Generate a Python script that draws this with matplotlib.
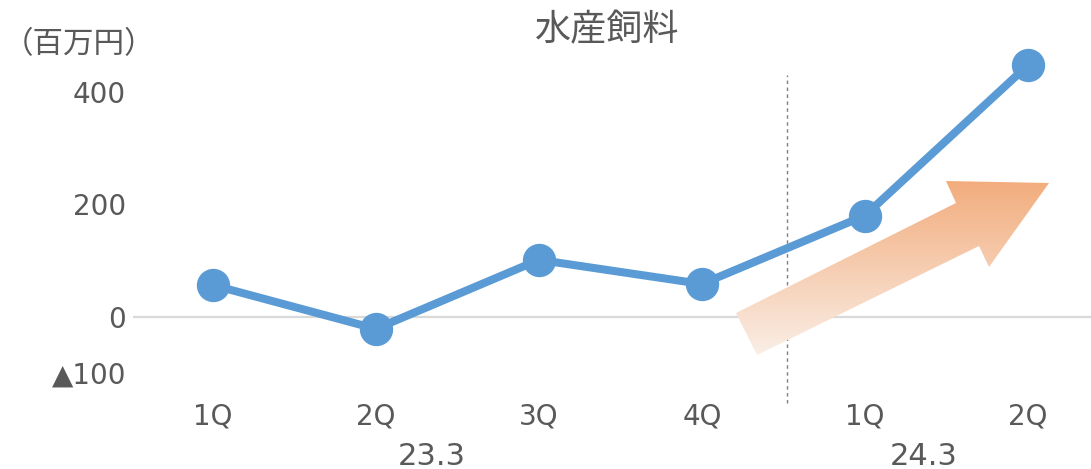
import matplotlib
matplotlib.use("Agg")
import matplotlib.pyplot as plt
import numpy as np
from matplotlib.patches import Polygon

# ---- data ----
quarters = ["1Q", "2Q", "3Q", "4Q", "1Q", "2Q"]
values = [56, -22, 101, 58, 180, 448]
fiscal_years = ["23.3", "24.3"]
ytick_values = [400, 200, 0, -100]
ytick_labels = ["400", "200", "0", "▲100"]
title = "水産飼料"
unit_label = "（百万円）"

TEXT = "#595959"
BLUE = "#5B9BD5"
CJK = ["Noto Sans CJK JP", "DejaVu Sans"]
NUM = ["DejaVu Sans", "Noto Sans CJK JP"]

W, H = 1091, 469
fig = plt.figure(figsize=(W / 100, H / 100), dpi=100)
ax_l, ax_r, ax_t, ax_b = 133, 1091, 40, 400
ax = fig.add_axes([ax_l / W, (H - ax_b) / H, (ax_r - ax_l) / W, (ax_b - ax_t) / H])

x = np.arange(len(quarters))
ax.plot(x, values, color=BLUE, lw=5.8, marker="o", ms=23, solid_capstyle="round", zorder=4)

ax.set_xlim(-0.49, 5.387)
ax.set_ylim(-148.8, 492.9)

ax.axhline(0, color="#D9D9D9", lw=1.6, zorder=1)
ax.axvline(3.52, ymin=-0.008, ymax=0.903, color="#7F7F7F", lw=1.0,
           ls=(0, (2.5, 2.5)), clip_on=False, zorder=2)

for s in ax.spines.values():
    s.set_visible(False)

ax.set_xticks(x)
ax.set_xticklabels(quarters, family=NUM, fontsize=20, color=TEXT)
ax.set_yticks(ytick_values)
ax.set_yticklabels(ytick_labels, family=NUM, fontsize=20, color=TEXT)
ax.tick_params(axis="both", length=0)
ax.tick_params(axis="y", pad=5)
ax.tick_params(axis="x", pad=2)

# fiscal-year group labels
trans = matplotlib.transforms.blended_transform_factory(ax.transData, fig.transFigure)
for xpos, lab in zip([1.344, 4.362], fiscal_years):
    ax.text(xpos, (H - 456) / H, lab, transform=trans, ha="center", va="center",
            family=NUM, fontsize=22, color=TEXT)

fig.text(607 / W, (H - 30) / H, title, ha="center", va="center", family=CJK,
         fontsize=26, color=TEXT)
fig.text(79 / W, (H - 45) / H, unit_label, ha="center", va="center", family=CJK,
         fontsize=22, color=TEXT)

# decorative gradient arrow (axes fraction coordinates)
arrow_px = [(736, 313), (956, 203), (946, 181), (1049, 183), (989, 267), (979, 246), (757, 355)]
arrow_ax = [((px - ax_l) / (ax_r - ax_l), (ax_b - py) / (ax_b - ax_t)) for px, py in arrow_px]
poly = Polygon(arrow_ax, closed=True, transform=ax.transAxes, facecolor="none",
               edgecolor="none")
ax.add_patch(poly)
y0 = min(p[1] for p in arrow_ax)
y1 = max(p[1] for p in arrow_ax)
x0 = min(p[0] for p in arrow_ax)
x1 = max(p[0] for p in arrow_ax)
n = 256
t = np.linspace(0, 1, n)[:, None]  # 0 bottom -> 1 top
c_bot = np.array([250, 238, 230]) / 255
c_top = np.array([242, 172, 124]) / 255
grad = c_bot + (c_top - c_bot) * t
img = np.repeat(grad[:, None, :], 4, axis=1)
im = ax.imshow(img, origin="lower", extent=[x0, x1, y0, y1], transform=ax.transAxes,
               aspect="auto", zorder=3, interpolation="bilinear")
im.set_clip_path(poly)
ax.set_xlim(-0.49, 5.387)
ax.set_ylim(-148.8, 492.9)

fig.savefig("out.png", dpi=100)
